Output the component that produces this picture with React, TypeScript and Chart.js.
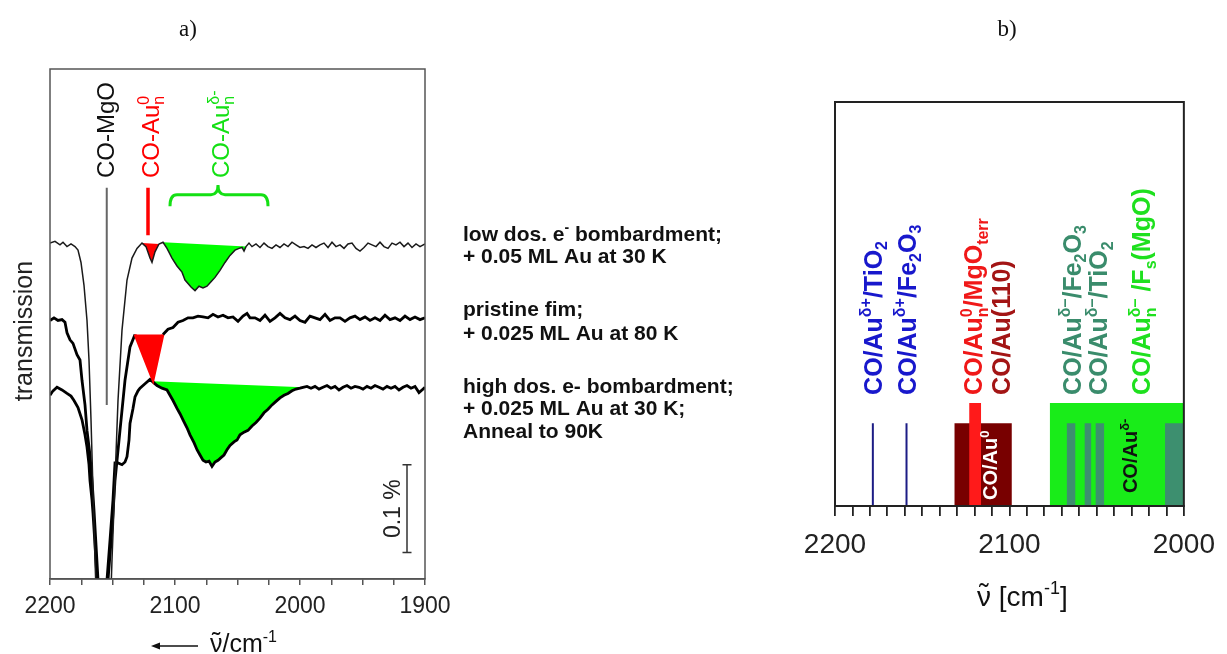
import React, { useEffect, useRef } from 'react';
import { Chart, registerables } from 'chart.js';
Chart.register(...registerables);

const FONT = '"Liberation Sans", Arial, sans-serif';
const SERIF = '"Liberation Serif", "Times New Roman", serif';

// ---------- Panel a: IR spectra (wavenumber cm-1, transmission %, offset) ----------
const lowDose: [number, number][] = [
  [2200,0.382],[2196,0.384],[2192,0.380],[2189.6,0.383],[2186.4,0.378],[2183.2,0.381],[2180,0.378],[2177.6,0.374],[2175.2,0.360],[2172.8,0.334],[2170.4,0.294],[2168.8,0.249],[2167.2,0.181],[2165.6,0.101],[2164,0.022],[2162.4,-0.047],[2160,-0.080],[2155,-0.080],[2152,-0.047],[2150.4,0.022],[2148,0.112],[2145.6,0.203],[2142.4,0.283],[2138.4,0.340],[2134.4,0.365],[2130.4,0.376],[2126.4,0.382],[2123.2,0.378],[2120,0.365],[2118.4,0.360],[2116,0.372],[2112.8,0.381],[2109.6,0.383],[2106.4,0.376],[2102.4,0.365],[2098.4,0.356],[2094.4,0.349],[2092,0.340],[2089.6,0.336],[2087.2,0.332],[2084,0.328],[2080.8,0.333],[2077.6,0.331],[2074.4,0.333],[2071.2,0.338],[2068,0.343],[2064,0.351],[2060,0.360],[2056,0.368],[2052,0.374],[2048.8,0.376],[2046.4,0.377],[2044.8,0.373],[2043.2,0.378],[2040.8,0.382],
  [2038.4,0.378],[2035.2,0.381],[2032,0.377],[2028.8,0.382],[2025.6,0.378],[2022.4,0.376],[2019.2,0.380],[2016,0.377],[2012.8,0.381],[2009.6,0.378],[2006.4,0.383],[2003.2,0.380],[2000,0.377],[1996.8,0.378],[1993.6,0.376],[1990.4,0.380],[1987.2,0.377],[1984,0.380],[1980.8,0.382],[1977.6,0.377],[1974.4,0.383],[1971.2,0.378],[1968,0.380],[1964.8,0.376],[1961.6,0.381],[1958.4,0.382],[1955.2,0.376],[1952,0.373],[1948.8,0.377],[1945.6,0.382],[1942.4,0.380],[1939.2,0.378],[1936,0.383],[1932.8,0.378],[1929.6,0.376],[1926.4,0.382],[1923.2,0.380],[1920,0.383],[1916.8,0.378],[1913.6,0.382],[1910.4,0.377],[1907.2,0.381],[1904,0.378],[1900,0.381],
];

const pristine: [number, number][] = [
  [2200,0.294],[2196.8,0.297],[2193.6,0.294],[2190.4,0.295],[2188,0.292],[2186.4,0.280],[2184,0.272],[2181.6,0.268],[2178.4,0.255],[2176,0.249],[2174.4,0.226],[2172,0.198],[2170.4,0.169],[2168,0.141],[2166.4,0.112],[2164.8,0.078],[2163.2,0.039],[2161.6,-0.001],[2160,-0.069],[2155.2,-0.069],[2153.6,-0.001],[2150.4,0.056],[2148,0.112],[2144,0.169],[2140,0.226],[2136,0.264],[2132,0.278],[2124.8,0.252],[2117.6,0.226],[2113.6,0.252],[2109.6,0.278],[2105.6,0.284],[2101.6,0.286],[2097.6,0.292],[2093.6,0.294],[2089.6,0.297],[2085.6,0.297],[2081.6,0.299],[2077.6,0.298],[2073.6,0.297],[2069.6,0.301],[2065.6,0.298],[2061.6,0.300],[2057.6,0.297],[2053.6,0.298],[2049.6,0.293],[2045.6,0.299],[2042.4,0.302],[2040,0.297],[2036,0.297],[2032,0.294],[2028,0.300],[2024,0.293],[2020,0.297],[2016,0.302],[2012,0.297],[2008,0.295],[2004,0.299],[2000,0.294],[1996,0.292],[1992,0.299],[1988,0.297],[1984,0.295],[1980,0.301],[1976,0.294],[1972,0.297],[1968,0.297],[1964,0.293],[1960,0.297],[1956,0.299],[1952,0.295],[1948,0.298],[1944,0.294],[1940,0.297],[1936,0.294],[1932,0.300],[1928,0.295],[1924,0.297],[1920,0.294],[1916,0.299],[1912,0.295],[1908,0.298],[1904,0.295],[1900,0.297],
];

const highDose: [number, number][] = [
  [2200,0.209],[2197.6,0.214],[2194.4,0.218],[2190.4,0.215],[2186.4,0.211],[2183.2,0.208],[2180.8,0.203],[2177.6,0.195],[2174.4,0.181],[2172,0.164],[2170.4,0.150],[2168.8,0.130],[2168,0.112],[2166.4,0.090],[2165.6,0.075],[2164,0.039],[2162.4,0.000],[2160.8,-0.069],[2156,-0.069],[2154.4,-0.001],[2152,0.044],[2149.6,0.090],[2148,0.132],[2145.6,0.132],[2142.4,0.130],[2140,0.133],[2138.4,0.139],[2136.8,0.158],[2136,0.177],[2133.6,0.194],[2132,0.207],[2129.6,0.214],[2128,0.217],[2124,0.222],[2120,0.227],[2118.4,0.225],[2114.4,0.220],[2110.4,0.217],[2106.4,0.215],[2104,0.209],[2101.6,0.203],[2098.4,0.194],[2096,0.188],[2093.6,0.181],[2090.4,0.172],[2088,0.164],[2084.8,0.155],[2082.4,0.147],[2080,0.141],[2077.6,0.135],[2075.2,0.133],[2072.8,0.134],[2070.4,0.128],[2068,0.133],[2065.6,0.135],[2063.2,0.138],[2060.8,0.141],[2058.4,0.147],[2056,0.152],[2052.8,0.156],[2050.4,0.158],[2048,0.164],[2044.8,0.167],[2041.6,0.169],[2038.4,0.174],[2035.2,0.178],[2032,0.183],[2028.8,0.189],[2025.6,0.193],[2022.4,0.198],[2019.2,0.202],[2016,0.206],[2012.8,0.209],[2009.6,0.211],[2006.4,0.214],[2003.2,0.216],[2000,0.217],[1997.6,0.218],
  [1994.4,0.219],[1991.2,0.217],[1988,0.219],[1984.8,0.216],[1981.6,0.218],[1978.4,0.220],[1975.2,0.217],[1972,0.219],[1968.8,0.215],[1965.6,0.218],[1962.4,0.220],[1959.2,0.217],[1956,0.219],[1952.8,0.218],[1949.6,0.216],[1946.4,0.219],[1943.2,0.217],[1940,0.220],[1936.8,0.218],[1933.6,0.216],[1930.4,0.219],[1927.2,0.217],[1924,0.219],[1920.8,0.215],[1917.6,0.218],[1914.4,0.220],[1911.2,0.217],[1908,0.219],[1904.8,0.212],[1902.4,0.215],[1900,0.218],
];

// shaded bands: [from, to] wavenumbers on each trace
const lowRedBand = [2126.4, 2112.8];
const lowGreenBand = [2109.6, 2043.2];
const pristineRedBand = [2132, 2109.6];
const highGreenBand = [2118.4, 1997.6];

// marker lines / brace / scale bar (wavenumber, transmission)
const markerCOMgO = [2154.6, 0.445, 0.198];
const markerAu0 = [2121.6, 0.445, 0.391];
const braceAuMinus = [2104, 2065.6, 2025.6];
const scaleBar = [1914.4, 0.030, 0.130];
const ticksA = [2200, 2100, 2000, 1900];

// ---------- Panel b: literature band positions ----------
const auPlusLines = [2178.3, 2159];
const au0Band = [2131.6, 2098.6];
const au0MgO = [2123.1, 2116.2];
const auMinusBand = [2076.9, 2000];
const auMinusLines: [number, number][] = [[2067.2, 2062.1], [2057, 2053], [2050.7, 2045.6], [2010.8, 2000]];
const bandHeights = { tall: 0.255, short: 0.205 };
const ticksB = [2200, 2100, 2000];

type Run = { t?: string; sup?: string; sub?: string; tilde?: boolean };

function drawRich(ctx: CanvasRenderingContext2D, runs: Run[], x: number, y: number, o: any) {
  const fam = o.family || FONT;
  const w = o.weight || 'normal';
  const big = `${w} ${o.size}px ${fam}`;
  const sm = `${w} ${Math.round(o.size * 0.65)}px ${fam}`;
  ctx.save();
  const widths = runs.map((r) => {
    if (r.t !== undefined) { ctx.font = big; return ctx.measureText(r.t).width; }
    ctx.font = sm;
    return Math.max(r.sup ? ctx.measureText(r.sup).width : 0, r.sub ? ctx.measureText(r.sub).width : 0);
  });
  const total = widths.reduce((a, b) => a + b, 0);
  ctx.translate(x, y);
  if (o.rotate) ctx.rotate(-Math.PI / 2);
  let cx = o.align === 'center' ? -total / 2 : 0;
  const by = o.rotate ? o.size * 0.36 : 0;
  ctx.fillStyle = o.color;
  ctx.textBaseline = 'alphabetic';
  ctx.textAlign = 'left';
  runs.forEach((r, i) => {
    if (r.t !== undefined) {
      ctx.font = big;
      ctx.fillText(r.t, cx, by);
      if (r.tilde) {
        ctx.textAlign = 'center';
        ctx.fillText('\u02DC', cx + widths[i] / 2, by - o.size * 0.1);
        ctx.textAlign = 'left';
      }
    } else {
      ctx.font = sm;
      if (r.sup) ctx.fillText(r.sup, cx, by - o.size * 0.42);
      if (r.sub) ctx.fillText(r.sub, cx, by + o.size * 0.22);
    }
    cx += widths[i];
  });
  ctx.restore();
}

const xy = (arr: [number, number][]) => arr.map(([x, y]) => ({ x, y }));
const segOf = (arr: [number, number][], band: number[]) => xy(arr.filter(([x]) => x <= band[0] && x >= band[1]));
const chordOf = (arr: [number, number][], band: number[]) =>
  xy([arr.find((p) => p[0] === band[0])!, arr.find((p) => p[0] === band[1])!]);

function bandSets(arr: [number, number][], band: number[], color: string, order: number) {
  return [
    { data: segOf(arr, band), borderWidth: 0, borderColor: 'rgba(0,0,0,0)', backgroundColor: color, fill: '+1', order, pointRadius: 0 },
    { data: chordOf(arr, band), borderWidth: 0, borderColor: 'rgba(0,0,0,0)', fill: false, order, pointRadius: 0 },
  ];
}

const labelsA = [
  { wn: 2156, runs: [{ t: 'CO-MgO' }], color: '#111111' },
  { wn: 2120, runs: [{ t: 'CO-Au' }, { sup: '0', sub: 'n' }], color: '#ff0000' },
  { wn: 2064, runs: [{ t: 'CO-Au' }, { sup: '\u03B4-', sub: 'n' }], color: '#14e014' },
];

const textBlock: { runs: Run[]; y: number }[] = [
  { runs: [{ t: 'low dos. e' }, { sup: '-' }, { t: ' bombardment;' }], y: 241 },
  { runs: [{ t: '+ 0.05 ML Au at 30 K' }], y: 263 },
  { runs: [{ t: 'pristine fim;' }], y: 316 },
  { runs: [{ t: '+ 0.025 ML Au at 80 K' }], y: 340 },
  { runs: [{ t: 'high dos. e- bombardment;' }], y: 393 },
  { runs: [{ t: '+ 0.025 ML Au at 30 K;' }], y: 415 },
  { runs: [{ t: 'Anneal to 90K' }], y: 438 },
];

const labelsB = [
  { wn: 2178.3, runs: [{ t: 'CO/Au' }, { sup: '\u03B4+' }, { t: '/TiO' }, { sub: '2' }], color: '#1818cc' },
  { wn: 2159, runs: [{ t: 'CO/Au' }, { sup: '\u03B4+' }, { t: '/Fe' }, { sub: '2' }, { t: 'O' }, { sub: '3' }], color: '#1818cc' },
  { wn: 2120.8, runs: [{ t: 'CO/Au' }, { sup: '0', sub: 'n' }, { t: '/MgO' }, { sub: 'terr' }], color: '#f01818' },
  { wn: 2104.8, runs: [{ t: 'CO/Au(110)' }], color: '#a31515' },
  { wn: 2064.4, runs: [{ t: 'CO/Au' }, { sup: '\u03B4\u2013' }, { t: '/Fe' }, { sub: '2' }, { t: 'O' }, { sub: '3' }], color: '#3a8c6c' },
  { wn: 2049, runs: [{ t: 'CO/Au' }, { sup: '\u03B4\u2013' }, { t: '/TiO' }, { sub: '2' }], color: '#3a8c6c' },
  { wn: 2024.5, runs: [{ t: 'CO/Au' }, { sup: '\u03B4\u2013', sub: 'n' }, { t: ' /F' }, { sub: 's' }, { t: '(MgO)' }], color: '#1ee01e' },
];

const panelAPlugin = {
  id: 'panelA',
  afterDraw(chart: any) {
    const ctx = chart.ctx as CanvasRenderingContext2D;
    const { left, right, top, bottom } = chart.chartArea;
    const xs = chart.scales.x, ys = chart.scales.y;
    ctx.save();
    ctx.strokeStyle = '#555';
    ctx.lineWidth = 1.5;
    ctx.strokeRect(left, top, right - left, bottom - top);

    labelsA.forEach((l) => drawRich(ctx, l.runs, xs.getPixelForValue(l.wn), ys.getPixelForValue(0.456), { size: 24, color: l.color, rotate: true }));

    // brace
    const xL = xs.getPixelForValue(braceAuMinus[0]);
    const xM = xs.getPixelForValue(braceAuMinus[1]);
    const xR = xs.getPixelForValue(braceAuMinus[2]);
    const yTip = ys.getPixelForValue(0.448), yH = ys.getPixelForValue(0.437), yEnd = ys.getPixelForValue(0.424);
    ctx.strokeStyle = '#14e014';
    ctx.lineWidth = 3;
    ctx.beginPath();
    ctx.moveTo(xL, yEnd);
    ctx.quadraticCurveTo(xL, yH, xL + 7, yH);
    ctx.lineTo(xM - 7, yH);
    ctx.quadraticCurveTo(xM, yH, xM, yTip);
    ctx.quadraticCurveTo(xM, yH, xM + 7, yH);
    ctx.lineTo(xR - 7, yH);
    ctx.quadraticCurveTo(xR, yH, xR, yEnd);
    ctx.stroke();

    // scale bar
    const sx = xs.getPixelForValue(scaleBar[0]);
    const sy1 = ys.getPixelForValue(scaleBar[1]), sy2 = ys.getPixelForValue(scaleBar[2]);
    ctx.strokeStyle = '#333';
    ctx.lineWidth = 1.5;
    ctx.beginPath();
    ctx.moveTo(sx, sy1); ctx.lineTo(sx, sy2);
    ctx.moveTo(sx - 4.5, sy1); ctx.lineTo(sx + 4.5, sy1);
    ctx.moveTo(sx - 4.5, sy2); ctx.lineTo(sx + 4.5, sy2);
    ctx.stroke();
    drawRich(ctx, [{ t: '0.1 %' }], sx - 15, (sy1 + sy2) / 2, { size: 23, color: '#222', rotate: true, align: 'center' });

    drawRich(ctx, [{ t: 'transmission' }], 23, 331, { size: 25, color: '#222', rotate: true, align: 'center' });

    // x title with arrow
    ctx.strokeStyle = '#111';
    ctx.fillStyle = '#111';
    ctx.lineWidth = 1.5;
    ctx.beginPath();
    ctx.moveTo(158, 646); ctx.lineTo(198, 646);
    ctx.stroke();
    ctx.beginPath();
    ctx.moveTo(151, 646); ctx.lineTo(160, 642.5); ctx.lineTo(160, 649.5); ctx.closePath();
    ctx.fill();
    drawRich(ctx, [{ t: '\u03BD', tilde: true }, { t: '/cm' }, { sup: '-1' }], 210, 652, { size: 25, color: '#111' });

    ctx.font = `23px ${SERIF}`;
    ctx.fillStyle = '#111';
    ctx.textAlign = 'center';
    ctx.textBaseline = 'middle';
    ctx.fillText('a)', 188, 30);

    textBlock.forEach((l) => drawRich(ctx, l.runs, 463, l.y, { size: 21, weight: 'bold', color: '#111' }));
    ctx.restore();
  },
};

const panelBPlugin = {
  id: 'panelB',
  afterDraw(chart: any) {
    const ctx = chart.ctx as CanvasRenderingContext2D;
    const { left, right, top, bottom } = chart.chartArea;
    const xs = chart.scales.x, ys = chart.scales.y;
    ctx.save();
    ctx.strokeStyle = '#222';
    ctx.lineWidth = 2;
    ctx.strokeRect(left, top, right - left, bottom - top);

    labelsB.forEach((l) => drawRich(ctx, l.runs, xs.getPixelForValue(l.wn), ys.getPixelForValue(0.275), { size: 25, weight: 'bold', color: l.color, rotate: true }));
    drawRich(ctx, [{ t: 'CO/Au' }, { sup: '0' }], xs.getPixelForValue(2111), ys.getPixelForValue(0.015), { size: 20, weight: 'bold', color: '#ffffff', rotate: true });
    drawRich(ctx, [{ t: 'CO/Au' }, { sup: '\u03B4-' }], xs.getPixelForValue(2030.8), ys.getPixelForValue(0.032), { size: 20, weight: 'bold', color: '#111', rotate: true });

    drawRich(ctx, [{ t: '\u03BD', tilde: true }, { t: ' [cm' }, { sup: '-1' }, { t: ']' }], 197, 606, { size: 28, color: '#111' });

    ctx.font = `23px ${SERIF}`;
    ctx.fillStyle = '#111';
    ctx.textAlign = 'center';
    ctx.textBaseline = 'middle';
    ctx.fillText('b)', 227, 30);
    ctx.restore();
  },
};

function rect(band: number[], h: number, color: string, order: number) {
  return { data: [{ x: band[0], y: h }, { x: band[1], y: h }], borderWidth: 0, borderColor: 'rgba(0,0,0,0)', backgroundColor: color, fill: 'origin', order, pointRadius: 0 };
}

export default function App() {
  const refA = useRef<HTMLCanvasElement>(null);
  const refB = useRef<HTMLCanvasElement>(null);

  useEffect(() => {
    const inBand = (c: any, band: number[]) => c.p0.parsed.x <= band[0] && c.p1.parsed.x >= band[1];
    const datasetsA: any[] = [
      { data: xy(lowDose), borderColor: '#1a1a1a', borderWidth: 1.5, fill: false, order: 2, pointRadius: 0 },
      {
        data: xy(pristine), borderColor: '#000', borderWidth: 2.8, fill: false, order: 2, pointRadius: 0,
        segment: { borderColor: (c: any) => (inBand(c, pristineRedBand) ? '#ff0000' : '#000') },
      },
      { data: xy(highDose), borderColor: '#000', borderWidth: 2.8, fill: false, order: 2, pointRadius: 0 },
      ...bandSets(lowDose, lowRedBand, '#ff0000', 3),
      ...bandSets(lowDose, lowGreenBand, '#00ff00', 3),
      ...bandSets(pristine, pristineRedBand, '#ff0000', 1),
      ...bandSets(highDose, highGreenBand, '#00ff00', 3),
      { data: [{ x: markerCOMgO[0], y: markerCOMgO[1] }, { x: markerCOMgO[0], y: markerCOMgO[2] }], borderColor: '#666', borderWidth: 2, fill: false, order: 0, pointRadius: 0 },
      { data: [{ x: markerAu0[0], y: markerAu0[1] }, { x: markerAu0[0], y: markerAu0[2] }], borderColor: '#ff0000', borderWidth: 3.5, fill: false, order: 0, pointRadius: 0 },
    ];

    const chartA = new Chart(refA.current!, {
      type: 'line',
      data: { datasets: datasetsA },
      options: {
        responsive: false,
        animation: false,
        layout: { padding: { left: 50, right: 355, top: 69, bottom: 0 } },
        plugins: { legend: { display: false }, tooltip: { enabled: false } },
        elements: { point: { radius: 0 }, line: { tension: 0 } },
        scales: {
          x: {
            type: 'linear', min: 1900, max: 2200, reverse: true,
            afterFit: (s: any) => { s.height = 75; },
            ticks: {
              stepSize: 25, autoSkip: false, maxRotation: 0, padding: 8,
              font: { family: FONT, size: 23 }, color: '#222',
              callback: (v: any) => (ticksA.includes(Number(v)) ? String(v) : ''),
            },
            grid: { drawOnChartArea: false, drawTicks: true, tickLength: 6, color: '#555', lineWidth: 1.5 },
            border: { display: true, color: '#555', width: 1.5 },
          },
          y: { type: 'linear', min: 0, max: 0.58, display: false },
        },
      } as any,
      plugins: [panelAPlugin],
    } as any);

    const datasetsB: any[] = [
      ...auPlusLines.map((wn) => ({ data: [{ x: wn, y: 0 }, { x: wn, y: bandHeights.short }], borderColor: '#1c1c85', borderWidth: 2, fill: false, order: 0, pointRadius: 0 })),
      rect(au0MgO, bandHeights.tall, '#ff1a1a', 1),
      rect(au0Band, bandHeights.short, '#780000', 2),
      ...auMinusLines.map((b) => rect(b, bandHeights.short, '#3d8f6f', 3)),
      rect(auMinusBand, bandHeights.tall, '#19ec19', 4),
    ];

    const chartB = new Chart(refB.current!, {
      type: 'line',
      data: { datasets: datasetsB },
      options: {
        responsive: false,
        animation: false,
        layout: { padding: { left: 55, right: 41, top: 102, bottom: 0 } },
        plugins: { legend: { display: false }, tooltip: { enabled: false } },
        elements: { point: { radius: 0 }, line: { tension: 0 } },
        scales: {
          x: {
            type: 'linear', min: 2000, max: 2200, reverse: true,
            afterFit: (s: any) => { s.height = 148; },
            ticks: {
              stepSize: 10, autoSkip: false, maxRotation: 0, padding: 12,
              font: { family: FONT, size: 28 }, color: '#222',
              callback: (v: any) => (ticksB.includes(Number(v)) ? String(v) : ''),
            },
            grid: { drawOnChartArea: false, drawTicks: true, tickLength: 10, color: '#222', lineWidth: 1.8 },
            border: { display: true, color: '#222', width: 2 },
          },
          y: { type: 'linear', min: 0, max: 1, display: false },
        },
      } as any,
      plugins: [panelBPlugin],
    } as any);

    return () => { chartA.destroy(); chartB.destroy(); };
  }, []);

  return (
    <div style={{ position: 'absolute', left: 0, top: 0, width: 1227, height: 654, background: '#fff' }}>
      <canvas ref={refA} width={780} height={654} style={{ position: 'absolute', left: 0, top: 0 }} />
      <canvas ref={refB} width={447} height={654} style={{ position: 'absolute', left: 780, top: 0 }} />
    </div>
  );
}
